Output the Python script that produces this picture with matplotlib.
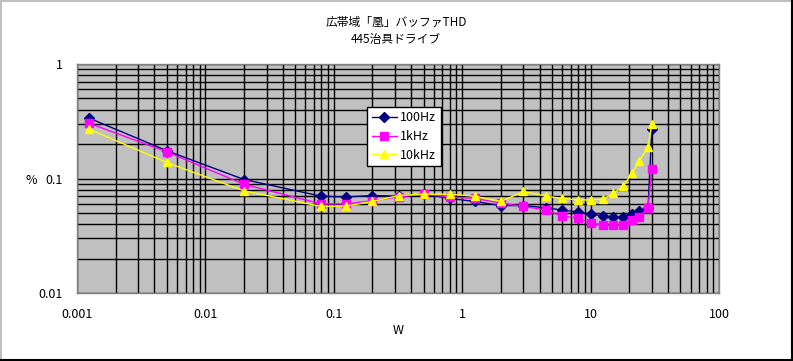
"""THD vs output power, Excel-style log-log chart (100Hz / 1kHz / 10kHz)."""

import matplotlib

matplotlib.use("Agg")

import matplotlib.pyplot as plt  # noqa: E402
from matplotlib.lines import Line2D  # noqa: E402
from matplotlib.ticker import FixedLocator, LogLocator, NullFormatter  # noqa: E402

plt.rcParams["font.family"] = ["Noto Sans CJK JP", "DejaVu Sans"]

TITLE = "広帯域「凰」バッファTHD\n445治具ドライブ"
X_LABEL = "W"
Y_LABEL = "%"

watts = [0.00125, 0.005, 0.02, 0.08, 0.125, 0.2, 0.32, 0.5, 0.8, 1.25, 2, 3,
         4.5, 6, 8, 10, 12.5, 15, 18, 21, 24, 28, 30]
thd_100hz = [0.336, 0.175, 0.098, 0.070, 0.069, 0.071, 0.070, 0.073, 0.067, 0.063,
             0.058, 0.058, 0.0555, 0.053, 0.051, 0.049, 0.047, 0.046, 0.046, 0.049,
             0.052, 0.055, 0.27]
thd_1khz = [0.303, 0.171, 0.089, 0.060, 0.060, 0.064, 0.069, 0.073, 0.069, 0.067,
            0.061, 0.057, 0.053, 0.047, 0.045, 0.041, 0.039, 0.039, 0.039, 0.0435,
            0.046, 0.0555, 0.122]
thd_10khz = [0.269, 0.138, 0.078, 0.057, 0.0575, 0.063, 0.071, 0.073, 0.073, 0.070,
             0.063, 0.077, 0.070, 0.067, 0.065, 0.065, 0.066, 0.074, 0.086, 0.111,
             0.143, 0.188, 0.299]

series_labels = ["100Hz", "1kHz", "10kHz"]
x_ticks = [0.001, 0.01, 0.1, 1, 10, 100]
x_tick_labels = ["0.001", "0.01", "0.1", "1", "10", "100"]
y_ticks = [0.01, 0.1, 1]
y_tick_labels = ["0.01", "0.1", "1"]

W, H, DPI = 793, 361, 100
fig = plt.figure(figsize=(W / DPI, H / DPI), dpi=DPI)
fig.patch.set_facecolor("white")

# plot area in pixels: x 77..719, y 64..293
ax = fig.add_axes((77 / W, (H - 293) / H, 642 / W, 229 / H))
ax.set_facecolor("#C0C0C0")
ax.set_xscale("log")
ax.set_yscale("log")
ax.set_xlim(0.001, 100)
ax.set_ylim(0.01, 1)

ax.xaxis.set_major_locator(FixedLocator(x_ticks))
ax.yaxis.set_major_locator(FixedLocator(y_ticks))
ax.xaxis.set_minor_locator(LogLocator(base=10, subs=range(2, 10), numticks=20))
ax.yaxis.set_minor_locator(LogLocator(base=10, subs=range(2, 10), numticks=20))
ax.xaxis.set_minor_formatter(NullFormatter())
ax.yaxis.set_minor_formatter(NullFormatter())
ax.set_xticklabels(x_tick_labels)
ax.set_yticklabels(y_tick_labels)
ax.grid(True, which="both", color="black", lw=1.0)
ax.set_axisbelow(True)
ax.tick_params(which="both", length=0)
ax.tick_params(axis="x", pad=11, labelsize=9)
ax.tick_params(axis="y", pad=10, labelsize=9)
for sp in ax.spines.values():
    sp.set_color("#808080")
    sp.set_linewidth(1.0)

ax.plot(watts, thd_100hz, color="#000080", lw=1, marker="D", ms=5,
        label=series_labels[0], zorder=3)
ax.plot(watts, thd_1khz, color="#FF00FF", lw=1, marker="s", ms=5.5,
        label=series_labels[1], zorder=4)
ax.plot(watts, thd_10khz, color="#FFFF00", lw=1, marker="^", ms=6,
        label=series_labels[2], zorder=5)

leg = ax.legend(loc="upper left", bbox_to_anchor=(0.452, 0.812), fontsize=9,
                fancybox=False, framealpha=1, edgecolor="black",
                borderaxespad=0, borderpad=0.35, labelspacing=0.45,
                handlelength=2.0, handletextpad=0.3)
leg.get_frame().set_linewidth(1.0)
leg.set_zorder(10)

fig.text(396 / W, 1 - 31 / H, TITLE, ha="center", va="center", fontsize=8.5,
         linespacing=1.4)
fig.text(398 / W, 1 - 330 / H, X_LABEL, ha="center", va="center", fontsize=9)
fig.text(31 / W, 1 - 180 / H, Y_LABEL, ha="center", va="center", fontsize=9)

# Excel chart-area border: light top/left, dark bottom/right
fig.add_artist(Line2D([0.5 / W, 0.5 / W], [0, 1], color="#C0C0C0", lw=1.5))
fig.add_artist(Line2D([0, 1], [1 - 0.5 / H, 1 - 0.5 / H], color="#C0C0C0", lw=1.5))
fig.add_artist(Line2D([1 - 1.5 / W, 1 - 1.5 / W], [0, 1], color="black", lw=1.5))
fig.add_artist(Line2D([0, 1], [1.5 / H, 1.5 / H], color="black", lw=1.5))

fig.savefig("out.png", dpi=DPI)
